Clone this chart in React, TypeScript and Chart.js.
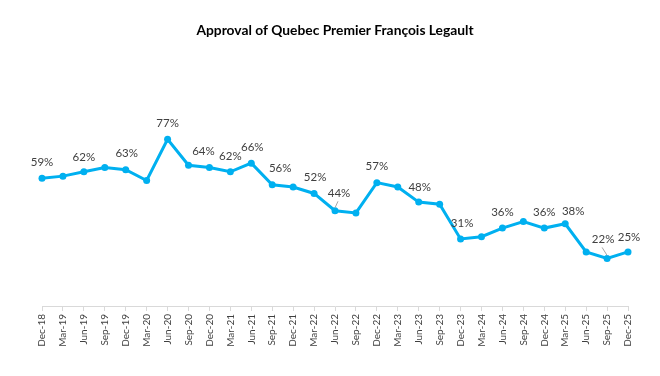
import React, { useEffect, useRef } from "react";
import { Chart, registerables } from "chart.js";

Chart.register(...registerables);

const TITLE = "Approval of Quebec Premier François Legault";

const categories = [
  "Dec-18", "Mar-19", "Jun-19", "Sep-19", "Dec-19", "Mar-20", "Jun-20", "Sep-20",
  "Dec-20", "Mar-21", "Jun-21", "Sep-21", "Dec-21", "Mar-22", "Jun-22", "Sep-22",
  "Dec-22", "Mar-23", "Jun-23", "Sep-23", "Dec-23", "Mar-24", "Jun-24", "Sep-24",
  "Dec-24", "Mar-25", "Jun-25", "Sep-25", "Dec-25",
];

const approval = [
  59, 60, 62, 64, 63, 58, 77, 65,
  64, 62, 66, 56, 55, 52, 44, 43,
  57, 55, 48, 47, 31, 32, 36, 39,
  36, 38, 25, 22, 25,
];

// categories whose value is printed on the chart
const labeledCategories = [
  "Dec-18", "Jun-19", "Dec-19", "Jun-20", "Dec-20", "Mar-21", "Jun-21", "Sep-21",
  "Mar-22", "Jun-22", "Dec-22", "Jun-23", "Dec-23", "Jun-24", "Dec-24", "Mar-25",
  "Sep-25", "Dec-25",
];

// label placement relative to the point (dx, dy, leader line)
const labelPlacement: Record<string, [number, number, boolean?]> = {
  "Dec-18": [0, -16],
  "Jun-19": [0, -15],
  "Dec-19": [1, -16],
  "Jun-20": [0, -16],
  "Dec-20": [-6, -16],
  "Mar-21": [0, -16],
  "Jun-21": [1, -16],
  "Sep-21": [8, -16.5],
  "Mar-22": [1, -16],
  "Jun-22": [4, -17.5, true],
  "Dec-22": [0, -16],
  "Jun-23": [1, -15],
  "Dec-23": [1.5, -16],
  "Jun-24": [0, -16],
  "Dec-24": [0, -16],
  "Mar-25": [8, -12],
  "Sep-25": [-4, -19, true],
  "Dec-25": [1, -15],
};

const LINE_COLOR = "#00B0F0";

const dataLabelPlugin = {
  id: "dataLabels",
  afterDatasetsDraw(chart: any) {
    const meta = chart.getDatasetMeta(0);
    const ctx = chart.ctx;
    ctx.save();
    ctx.font = "11.5px Lato";
    ctx.fillStyle = "#404040";
    ctx.textAlign = "center";
    ctx.textBaseline = "middle";
    labeledCategories.forEach((cat) => {
      const i = categories.indexOf(cat);
      const el = meta.data[i];
      if (!el) return;
      const [dx, dy, leader] = labelPlacement[cat] || [0, -16];
      const x = el.x + dx;
      const y = el.y + dy;
      ctx.fillText(approval[i] + "%", x, y);
      if (leader) {
        ctx.strokeStyle = "#a6a6a6";
        ctx.lineWidth = 1;
        ctx.beginPath();
        ctx.moveTo(x - 1, y + 8);
        ctx.lineTo(el.x, el.y - 3);
        ctx.stroke();
      }
    });
    ctx.restore();
  },
};

export default function App() {
  const canvasRef = useRef<HTMLCanvasElement | null>(null);

  useEffect(() => {
    if (!canvasRef.current) return;
    const chart = new Chart(canvasRef.current, {
      type: "line",
      data: {
        labels: categories,
        datasets: [
          {
            data: approval,
            borderColor: LINE_COLOR,
            backgroundColor: LINE_COLOR,
            borderWidth: 3,
            pointRadius: 3.5,
            pointBackgroundColor: LINE_COLOR,
            pointBorderWidth: 0,
            tension: 0,
          },
        ],
      },
      options: {
        responsive: false,
        animation: false,
        layout: { padding: { left: 42, right: 32, top: 0, bottom: 0 } },
        plugins: {
          legend: { display: false },
          tooltip: { enabled: false },
          title: {
            display: true,
            text: TITLE,
            color: "#000000",
            font: { family: "Lato", size: 13.8, weight: "bold" },
            padding: { top: 22.5, bottom: 50.5 },
          },
        },
        scales: {
          x: {
            offset: false,
            grid: {
              display: true,
              drawOnChartArea: false,
              drawTicks: true,
              tickLength: 5,
              color: "#d9d9d9",
            },
            border: { display: true, color: "#d9d9d9", width: 1 },
            ticks: {
              autoSkip: false,
              minRotation: 90,
              maxRotation: 90,
              padding: 3,
              color: "#404040",
              font: { family: "Lato", size: 10 },
            },
            afterFit: (scale: any) => {
              scale.height = 70;
            },
          },
          y: {
            display: false,
            min: 0,
            max: 100,
          },
        },
      },
      plugins: [dataLabelPlugin],
    });
    return () => chart.destroy();
  }, []);

  return (
    <div style={{ position: "absolute", left: 0, top: 0, width: 660, height: 376, background: "#ffffff" }}>
      <canvas ref={canvasRef} width={660} height={376} />
    </div>
  );
}
